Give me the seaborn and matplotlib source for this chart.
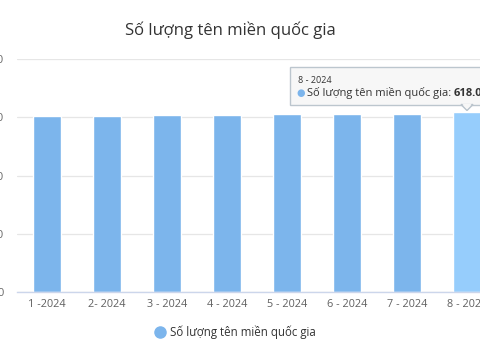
import matplotlib
matplotlib.use("Agg")
import matplotlib.pyplot as plt
import matplotlib.transforms as mtransforms
from matplotlib.patches import Rectangle, Polygon
from matplotlib.lines import Line2D
import pandas as pd
import seaborn as sns

# data
months = ["1 -2024", "2- 2024", "3 - 2024", "4 - 2024",
          "5 - 2024", "6 - 2024", "7 - 2024", "8 - 2024"]
domains = [603000, 603500, 608000, 608000, 612000, 612500, 612500, 618000]
y_ticks = [0, 200000, 400000, 600000, 800000]
series_name = "Số lượng tên miền quốc gia"
title = "Số lượng tên miền quốc gia"
hover_idx = 7

bar_color = "#7cb5ec"
hover_color = "#96cdfc"

sns.set_style("white")
plt.rcParams["font.family"] = ["Open Sans", "DejaVu Sans"]

df = pd.DataFrame({"month": months, "count": domains})
colors = [hover_color if i == hover_idx else bar_color for i in range(len(months))]

fig = plt.figure(figsize=(4.8, 3.6), dpi=100)
ax = fig.add_axes([17 / 480, 68 / 360, 480 / 480, 233 / 360])

sns.barplot(data=df, x="month", y="count", hue="month", palette=colors,
            width=0.47, legend=False, ax=ax, saturation=1)

ax.set_xlim(-0.5, len(months) - 0.5)
ax.set_ylim(y_ticks[0], y_ticks[-1])
ax.set_yticks(y_ticks)
ax.set_yticklabels([f"{t:,}".replace(",", ".") for t in y_ticks])
ax.tick_params(axis="y", length=0, pad=9.5, labelsize=8, labelcolor="#666666")
ax.tick_params(axis="x", length=0, pad=5, labelsize=7.8, labelcolor="#606060")
ax.set_xlabel("")
ax.set_ylabel("")
ax.grid(axis="y", color="#e6e6e6", linewidth=0.9)
ax.set_axisbelow(True)
for s in ["top", "right", "left"]:
    ax.spines[s].set_visible(False)
ax.spines["bottom"].set_color("#ccd6eb")
ax.spines["bottom"].set_linewidth(1)

fig.text(0.48, 1 - 30 / 360, title, ha="center", va="center",
         fontsize=12, color="#333333")

# legend
handle = Line2D([], [], marker="o", linestyle="", markersize=8,
                markerfacecolor=bar_color, markeredgecolor=bar_color)
fig.legend([handle], [series_name], loc="center", bbox_to_anchor=(0.49, 1 - 332 / 360),
           frameon=False, prop={"size": 8.3, "weight": "medium"}, labelcolor="#333333",
           handletextpad=0.4, handlelength=1)

# hover tooltip anchored on the hovered bar
fig.canvas.draw()
ax_x, ax_y = ax.transData.transform((hover_idx, domains[hover_idx]))
anchor = mtransforms.Affine2D().translate(ax_x, ax_y)
box = Rectangle((-177, 7), 260, 38, transform=anchor, facecolor="#f7f7f7",
                edgecolor="#b9c3cc", linewidth=1, alpha=0.95, zorder=5, clip_on=False)
ax.add_artist(box)
tri = Polygon([(-6, 7.5), (6, 7.5), (0, 1.5)], closed=True, transform=anchor,
              facecolor="#f7f7f7", edgecolor="#b9c3cc", linewidth=1, zorder=6,
              clip_on=False)
ax.add_artist(tri)
ax.add_artist(Polygon([(-5, 8.5), (5, 8.5), (0, 3)], closed=True, transform=anchor,
                      facecolor="#f7f7f7", edgecolor="none", zorder=7, clip_on=False))

txt_kw = dict(xycoords=ax.transData, textcoords="offset pixels", va="center",
              ha="left", zorder=8, annotation_clip=False)
ax.annotate(months[hover_idx], (hover_idx, domains[hover_idx]),
            xytext=(-169, 32), fontsize=6.5, color="#333333", **txt_kw)
ax.annotate("●", (hover_idx, domains[hover_idx]), xytext=(-171, 19),
            fontsize=7, color=bar_color, family="DejaVu Sans", **txt_kw)
lbl = ax.annotate(series_name + ": ", (hover_idx, domains[hover_idx]),
                  xytext=(-160, 19), fontsize=8, color="#333333", **txt_kw)
fig.canvas.draw()
bb = lbl.get_window_extent()
ax.annotate(f"{domains[hover_idx]:,}".replace(",", "."), (hover_idx, domains[hover_idx]),
            xytext=(bb.x1 - ax_x, 19), fontsize=8, color="#333333",
            weight="bold", **txt_kw)

fig.savefig("out.png", dpi=100)
